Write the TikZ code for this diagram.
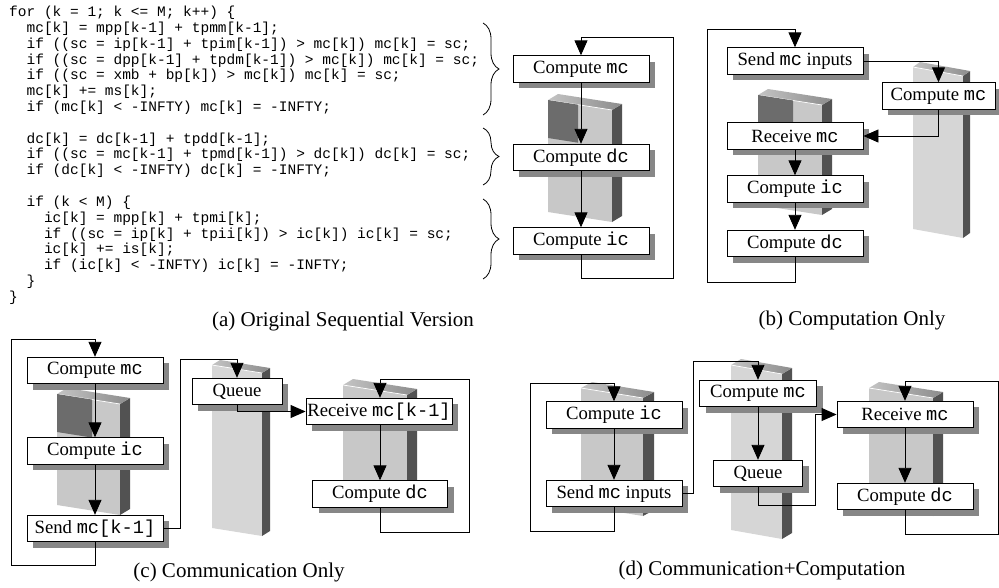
\documentclass[tikz,border=0pt]{standalone}
\usepackage{fontspec}
\setmainfont{Liberation Serif}
\newfontfamily\codefont{Liberation Mono}
\usetikzlibrary{arrows.meta,shadows,decorations.pathreplacing}

\definecolor{shadowgray}{HTML}{878787}
\definecolor{slabfront}{HTML}{C8C8C8}
\definecolor{slabfronttall}{HTML}{D6D6D6}
\definecolor{slabsidecol}{HTML}{525252}
\definecolor{slabpatchcol}{HTML}{6C6C6C}
\definecolor{slabtopL}{HTML}{C4C4C4}
\definecolor{slabtopR}{HTML}{8C8C8C}

\newcommand\labelfont{\fontsize{18.7}{22}\selectfont}
\newcommand\capfont{\fontsize{21}{25}\selectfont}
\newcommand\cw[1]{{\codefont #1}}

% processor block: front colour, left x, top y, width, height, slant, depth x, depth y
\newcommand\slabbody[8]{%
  \fill[#1] (#2,#3) -- ({#2+#4},{#3+#6}) -- ({#2+#4},{#3+#6+#5}) -- (#2,{#3+#5}) -- cycle;
  \fill[slabsidecol] ({#2+#4},{#3+#6}) -- ({#2+#4+#7},{#3+#6-#8}) -- ({#2+#4+#7},{#3+#6-#8+#5}) -- ({#2+#4},{#3+#6+#5}) -- cycle;
  \path[left color=slabtopL, right color=slabtopR] (#2,#3) -- ({#2+#7},{#3-#8}) -- ({#2+#4+#7},{#3+#6-#8}) -- ({#2+#4},{#3+#6}) -- cycle;
  \draw[white, line width=0.7pt] (#2,#3) -- ({#2+#4},{#3+#6});
}
% darker upper-left part of a block front: left x, top y, width, slant, patch width, patch height
\newcommand\slabpatch[6]{%
  \fill[slabpatchcol] (#1,#2) -- ({#1+#5},{#2+#4*#5/#3}) -- ({#1+#5},{#2+#4*#5/#3+#6}) -- (#1,{#2+#6}) -- cycle;
}

\tikzset{
  box/.style={draw, fill=white, line width=0.9pt, inner sep=0pt,
    minimum height=26.5pt, font=\labelfont,
    drop shadow={shadow xshift=6pt, shadow yshift=-6pt, fill=shadowgray, opacity=1}},
  arr/.style={line width=0.9pt, -{Triangle[length=15pt, width=13pt]}},
  codeline/.style={anchor=mid west, inner sep=0pt, font=\codefont\fontsize{14.5}{16}\selectfont},
  caption/.style={anchor=base, inner sep=0pt, font=\capfont},
  curly/.style={decorate, decoration={brace, amplitude=16pt}, line width=0.8pt},
}

\begin{document}
\begin{tikzpicture}[x=1pt, y=-1pt]
\useasboundingbox (0,0) rectangle (999,587);
\frenchspacing

% ---------------- source listing ----------------
\node[codeline] (l0)  at (9,14.5)    {for (k = 1; k <= M; k++) \{};
\node[codeline] (l1)  at (26.4,30.3) {mc[k] = mpp[k-1] + tpmm[k-1];};
\node[codeline] (l2)  at (26.4,46.1) {if ((sc = ip[k-1] + tpim[k-1]) > mc[k]) mc[k] = sc;};
\node[codeline] (l3)  at (26.4,61.9) {if ((sc = dpp[k-1] + tpdm[k-1]) > mc[k]) mc[k] = sc;};
\node[codeline] (l4)  at (26.4,77.7) {if ((sc = xmb + bp[k]) > mc[k]) mc[k] = sc;};
\node[codeline] (l5)  at (26.4,93.5) {mc[k] += ms[k];};
\node[codeline] (l6)  at (26.4,109.3) {if (mc[k] < -INFTY) mc[k] = -INFTY;};
\node[codeline] (l8)  at (26.4,140.9) {dc[k] = dc[k-1] + tpdd[k-1];};
\node[codeline] (l9)  at (26.4,156.7) {if ((sc = mc[k-1] + tpmd[k-1]) > dc[k]) dc[k] = sc;};
\node[codeline] (l10) at (26.4,172.5) {if (dc[k] < -INFTY) dc[k] = -INFTY;};
\node[codeline] (l12) at (26.4,204.1) {if (k < M) \{};
\node[codeline] (l13) at (43.8,219.9) {ic[k] = mpp[k] + tpmi[k];};
\node[codeline] (l14) at (43.8,235.7) {if ((sc = ip[k] + tpii[k]) > ic[k]) ic[k] = sc;};
\node[codeline] (l15) at (43.8,251.5) {ic[k] += is[k];};
\node[codeline] (l16) at (43.8,267.3) {if (ic[k] < -INFTY) ic[k] = -INFTY;};
\node[codeline] (l17) at (26.4,283.1) {\}};
\node[codeline] (l18) at (9,298.9)   {\}};

\draw[curly] (483,23) -- (483,115);
\draw[curly] (483,128) -- (483,185);
\draw[curly] (483,199) -- (483,279);

% ---------------- (a) original sequential version ----------------
\slabbody{slabfront}{548}{100}{64}{112}{10}{10}{6}
\slabpatch{548}{100}{64}{10}{30}{38}

\node[box, minimum width=136pt] (amc) at (581,69)    {Compute \cw{mc}};
\node[box, minimum width=136pt] (adc) at (581,157.5) {Compute \cw{dc}};
\node[box, minimum width=136pt] (aic) at (581,241)   {Compute \cw{ic}};
\coordinate (aloopB) at (673,278);
\coordinate (aloopT) at (673,37);
\draw[arr] (amc) -- (adc);
\draw[arr] (adc) -- (aic);
\draw[arr] (aic.south) |- (aloopB) -- (aloopT) -| (amc.north);

\node[caption] (capa) at (343,326) {(a) Original Sequential Version};

% ---------------- (b) computation only ----------------
\slabbody{slabfront}{758}{95}{64}{110}{10}{10}{6}
\slabpatch{758}{95}{64}{10}{35}{40}
\slabbody{slabfronttall}{913}{67}{50}{162}{9}{7}{5}

\node[box, minimum width=136pt] (bsend) at (795,61)    {Send \cw{mc} inputs};
\node[box, minimum width=113pt] (bcmc)  at (938.5,96)  {Compute \cw{mc}};
\node[box, minimum width=136pt] (brecv) at (795,136)   {Receive \cw{mc}};
\node[box, minimum width=136pt] (bic)   at (795,189)   {Compute \cw{ic}};
\node[box, minimum width=136pt] (bdc)   at (795,243.5) {Compute \cw{dc}};
\coordinate (bloopB) at (707,282);
\coordinate (bloopT) at (707,29);
\draw[arr] (bsend.east) -| (bcmc.north);
\draw[arr] (bcmc.south) |- (brecv.east);
\draw[arr] (brecv) -- (bic);
\draw[arr] (bic) -- (bdc);
\draw[arr] (bdc.south) |- (bloopB) -- (bloopT) -| (bsend.north);

\node[caption] (capb) at (852,325) {(b) Computation Only};

% ---------------- (c) communication only ----------------
\slabbody{slabfront}{57}{394}{63}{111}{10}{10}{6}
\slabpatch{57}{394}{63}{10}{35}{38}
\slabbody{slabfronttall}{212}{365}{50}{163}{8}{8}{5}
\slabbody{slabfront}{343}{385}{64}{112}{10}{10}{6}

\node[box, minimum width=136pt] (cmc)   at (95,370.5)  {Compute \cw{mc}};
\node[box, minimum width=136pt] (cic)   at (95,451)    {Compute \cw{ic}};
\node[box, minimum width=136pt] (csend) at (95,528.5)  {Send \cw{mc[k-1]}};
\node[box, minimum width=90pt]  (cq)    at (237,391.5) {Queue};
\node[box, minimum width=146pt] (crecv) at (379,411.5) {Receive \cw{mc[k-1]}};
\node[box, minimum width=135pt] (cdc)   at (380,494)   {Compute \cw{dc}};
\coordinate (cloopLB) at (11,565);
\coordinate (cloopLT) at (11,339);
\coordinate (cup) at (180,359);
\coordinate (cloopRB) at (469,532);
\coordinate (cloopRT) at (469,379);
\draw[arr] (cmc) -- (cic);
\draw[arr] (cic) -- (csend);
\draw[arr] (csend.south) |- (cloopLB) -- (cloopLT) -| (cmc.north);
\draw[arr] (csend.east) -| (cup) -| (cq.north);
\draw[arr] (cq.south) |- (crecv.west);
\draw[arr] (crecv.south -| cdc.north) -- (cdc.north);
\draw[arr] (cdc.south) |- (cloopRB) -- (cloopRT) -| (cdc.north |- crecv.north);

\node[caption] (capc) at (239,577) {(c) Communication Only};

% ---------------- (d) communication + computation ----------------
\slabbody{slabfront}{581}{388}{62}{118}{10}{11}{6}
\slabbody{slabfronttall}{731}{365}{51}{165}{9}{10}{6}
\slabbody{slabfront}{869}{388}{64}{118}{10}{10}{6}

\node[box, minimum width=136pt] (dic)   at (614,415)   {Compute \cw{ic}};
\node[box, minimum width=136pt] (dsend) at (614,493.5) {Send \cw{mc} inputs};
\node[box, minimum width=117pt] (dcmc)  at (758,393.5) {Compute \cw{mc}};
\node[box, minimum width=89pt]  (dq)    at (758,473.5) {Queue};
\node[box, minimum width=136pt] (drecv) at (905,414.5) {Receive \cw{mc}};
\node[box, minimum width=136pt] (ddc)   at (905,496.5) {Compute \cw{dc}};
\coordinate (dloopLB) at (530,531);
\coordinate (dloopLT) at (530,383);
\coordinate (dup) at (693,361);
\coordinate (ddown) at (815,505);
\coordinate (dloopRB) at (998,534);
\coordinate (dloopRT) at (998,381);
\draw[arr] (dic) -- (dsend);
\draw[arr] (dsend.south) |- (dloopLB) -- (dloopLT) -| (dic.north);
\draw[arr] (dsend.east) -| (dup) -| (dcmc.north);
\draw[arr] (dcmc) -- (dq);
\draw[arr] (dq.south) |- (ddown) |- (drecv.west);
\draw[arr] (drecv) -- (ddc);
\draw[arr] (ddc.south) |- (dloopRB) -- (dloopRT) -| (drecv.north);

\node[caption] (capd) at (762,575) {(d) Communication+Computation};
\end{tikzpicture}
\end{document}
